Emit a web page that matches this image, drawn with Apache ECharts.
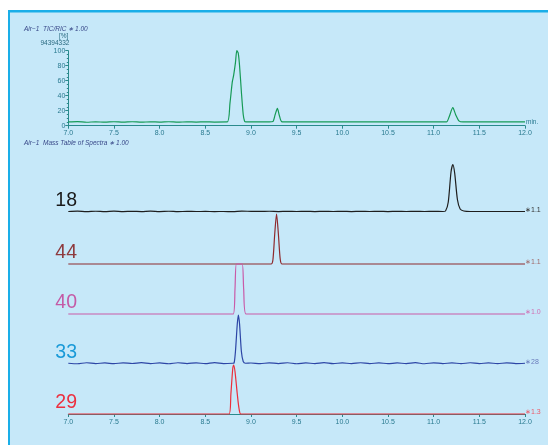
<!DOCTYPE html>
<html><head><meta charset="utf-8">
<script src="https://cdn.jsdelivr.net/npm/echarts@6/dist/echarts.min.js"></script>
<style>html,body{margin:0;padding:0;background:#fff}#c{width:548px;height:445px}</style>
</head><body><div id="c"></div>
<script>
// ---- data ----
var xTicks = [7.0, 7.5, 8.0, 8.5, 9.0, 9.5, 10.0, 10.5, 11.0, 11.5, 12.0];
var ticYTicks = [0, 20, 40, 60, 80, 100];
// TIC (% of 94394332)
var ticT = [7.0,7.1,7.2,7.3,7.4,7.5,7.6,7.7,7.8,7.9,8.0,8.1,8.2,8.3,8.4,8.5,8.6,8.74,8.77,8.795,8.81,8.83,8.845,8.86,8.875,8.895,8.915,8.93,8.945,9.0,9.1,9.2,9.24,9.265,9.289,9.31,9.335,9.4,9.6,9.8,10.0,10.2,10.4,10.6,10.8,11.0,11.14,11.17,11.21,11.24,11.28,11.32,11.5,11.7,11.9,12.0];
var ticV = [5,5.4,4.6,5.2,4.7,5.3,4.8,5.3,4.7,5.2,4.8,5.3,4.7,5.2,4.8,5.2,4.9,5,30,58,67,84,100,97,80,45,15,6,5,5,5,5,5.5,15,23,14,5.5,5,5,5,5,5,5,5,5,5,5,12,24,15,6,5,5,5,5,5];
// mass traces (% of own scale)
var massNames = ["18", "44", "40", "33", "29"];
var massScales = ["\u22171.1", "\u22171.1", "\u22171.0", "\u221728", "\u22171.3"];
var t18 = [7.0,7.1,7.2,7.3,7.4,7.5,7.6,7.7,7.8,7.9,8.0,8.1,8.2,8.3,8.4,8.5,8.6,8.7,8.8,8.9,9.0,9.1,9.2,9.3,9.4,9.5,9.6,9.7,9.8,9.9,10.0,10.1,10.2,10.3,10.4,10.5,10.6,10.7,10.8,10.9,11.0,11.1,11.13,11.16,11.19,11.21,11.23,11.26,11.29,11.33,11.4,11.5,11.6,11.7,11.8,11.9,12.0];
var v18 = [1,1.6,0.8,1.5,0.8,1.6,0.9,1.4,0.8,1.6,0.9,1.5,0.8,1.2,1,1.1,0.9,1,0.8,1.8,1.3,1.1,1.5,0.9,1.3,1,1.4,0.9,1.3,1,1.3,0.9,1.4,1,1.3,0.9,1.4,1,1.2,1,1.2,1,2,20,80,95,78,25,6,2,1,1,1,1,1,1,1];
var t44 = [7.0,9.22,9.24,9.26,9.28,9.30,9.32,9.34,12.0];
var v44 = [0,0,8,60,100,60,10,0,0];
var t40 = [7.0,8.805,8.825,8.84,8.875,8.905,8.92,8.945,12.0];
var v40 = [0,0,50,100,100,100,50,0,0];
var t33 = [7.0,7.1,7.2,7.3,7.4,7.5,7.6,7.7,7.8,7.9,8.0,8.1,8.2,8.3,8.4,8.5,8.6,8.7,8.8,8.815,8.83,8.85,8.862,8.875,8.895,8.915,8.94,9.0,9.1,9.2,9.3,9.4,9.5,9.6,9.7,9.8,9.9,10.0,10.1,10.2,10.3,10.4,10.5,10.6,10.7,10.8,10.9,11.0,11.1,11.2,11.3,11.4,11.5,11.6,11.7,11.8,11.9,12.0];
var v33 = [1.5,0.5,2.5,0.8,2.2,0.6,2.4,1,2.6,0.7,2.2,0.5,2.5,0.9,2.3,0.6,2.7,0.8,1.5,2,25,80,98,80,25,5,1.5,2,0.6,2.4,0.8,2.5,0.5,2.2,0.9,2.6,0.6,2.3,0.8,2.5,0.7,2.4,0.6,2.2,0.9,2.6,0.5,2.4,0.8,2.3,0.6,2.5,0.9,2.2,0.7,2.4,0.8,1.5];
var t29 = [7.0,8.76,8.78,8.80,8.81,8.825,8.85,8.87,8.89,12.0];
var v29 = [0,0,40,90,98,85,40,10,0,0];

function pairs(t, v) { return t.map(function (x, i) { return [x, v[i]]; }); }

var massT = [t18, t44, t40, t33, t29];
var massV = [v18, v44, v40, v33, v29];
var lineColors = ["#1e1e1e", "#8e2a2e", "#c95aa8", "#2d46a6", "#ec2e3a"];
var nameColors = ["#1a1a1a", "#8e3a3e", "#c45aa6", "#1a9ad8", "#ec3040"];
var scaleColors = ["#333333", "#a06a6a", "#d070b4", "#6a7cbc", "#ec5a68"];
var gridTops = [162, 214, 264, 314, 364];

var axisCol = "#2a8a8c";
var labCol = "#2a7a90";

var chart = echarts.init(document.getElementById('c'), null, {renderer: 'canvas'});

var grids = [{left: 68.3, right: 23, top: 50.7, height: 75}];
var xAxes = [{
  gridIndex: 0, type: 'value', min: 7, max: 12, interval: 0.5,
  axisLine: {show: true, lineStyle: {color: axisCol, width: 1}},
  axisTick: {show: true, length: 3, lineStyle: {color: axisCol}},
  axisLabel: {fontSize: 7, color: labCol, margin: 4, fontFamily: 'Liberation Sans',
    formatter: function (v) { return v.toFixed(1); }},
  splitLine: {show: false}
}];
var yAxes = [{
  gridIndex: 0, type: 'value', min: 0, max: 100, interval: 20,
  axisLine: {show: true, lineStyle: {color: axisCol, width: 1}},
  axisTick: {show: true, length: 3, lineStyle: {color: axisCol}},
  minorTick: {show: true, splitNumber: 4, length: 1.5, lineStyle: {color: axisCol}},
  axisLabel: {fontSize: 7, color: labCol, margin: 3, fontFamily: 'Liberation Sans'},
  splitLine: {show: false}
}];
var series = [{
  type: 'line', xAxisIndex: 0, yAxisIndex: 0, data: pairs(ticT, ticV),
  showSymbol: false, smooth: 0.25, clip: true,
  lineStyle: {color: '#169a56', width: 1.2}
}];
var graphics = [
  {type: 'rect', shape: {x: 8, y: 10, width: 540, height: 435}, style: {fill: '#c6e8f9'}, z: -10},
  {type: 'rect', shape: {x: 8, y: 10, width: 540, height: 2.5}, style: {fill: '#1aaee8'}, z: -9},
  {type: 'rect', shape: {x: 8, y: 10, width: 2, height: 435}, style: {fill: '#1aaee8'}, z: -9},
  {type: 'text', left: 24, top: 25.5, style: {text: 'Air\u22121  TIC/RIC \u2217 1.00', fontSize: 6.5, fontStyle: 'italic', fill: '#3a4a8a', fontFamily: 'Liberation Sans'}},
  {type: 'text', left: 24, top: 140, style: {text: 'Air\u22121  Mass Table of Spectra \u2217 1.00', fontSize: 6.5, fontStyle: 'italic', fill: '#3a4a8a', fontFamily: 'Liberation Sans'}},
  {type: 'text', left: 59, top: 32.5, style: {text: '[%]', fontSize: 6.5, fill: '#2a6a80', fontFamily: 'Liberation Sans'}},
  {type: 'text', left: 40.5, top: 40, style: {text: '94394332', fontSize: 6.5, fill: '#2a6a80', fontFamily: 'Liberation Sans'}},
  {type: 'text', left: 526, top: 118.5, style: {text: 'min.', fontSize: 6.5, fill: labCol, fontFamily: 'Liberation Sans'}}
];

for (var i = 0; i < 5; i++) {
  var gi = i + 1;
  grids.push({left: 68.3, right: 23, top: gridTops[i], height: 50});
  var last = (i === 4);
  xAxes.push({
    gridIndex: gi, type: 'value', min: 7, max: 12, interval: 0.5, show: last,
    axisLine: {show: last, lineStyle: {color: axisCol, width: 1}},
    axisTick: {show: last, length: 3, lineStyle: {color: axisCol}},
    axisLabel: {show: last, fontSize: 7, color: labCol, margin: 5, fontFamily: 'Liberation Sans',
      formatter: function (v) { return v.toFixed(1); }},
    splitLine: {show: false}
  });
  yAxes.push({gridIndex: gi, type: 'value', min: 0, max: 100, show: false, splitLine: {show: false}});
  series.push({
    type: 'line', xAxisIndex: gi, yAxisIndex: gi, data: pairs(massT[i], massV[i]),
    showSymbol: false, smooth: 0.25, clip: false, z: 3,
    lineStyle: {color: lineColors[i], width: 1.2}
  });
  graphics.push({type: 'text', right: 548 - 77, top: gridTops[i] + 50 - 21.5,
    style: {text: massNames[i], fontSize: 19.5, fill: nameColors[i], fontFamily: 'Liberation Sans'}});
  graphics.push({type: 'text', left: 525, top: gridTops[i] + 50 - 5.5,
    style: {text: massScales[i], fontSize: 7, fill: scaleColors[i], fontFamily: 'Liberation Sans'}});
}

chart.setOption({
  animation: false,
  backgroundColor: '#ffffff',
  grid: grids, xAxis: xAxes, yAxis: yAxes, series: series, graphic: graphics
});
</script></body></html>
